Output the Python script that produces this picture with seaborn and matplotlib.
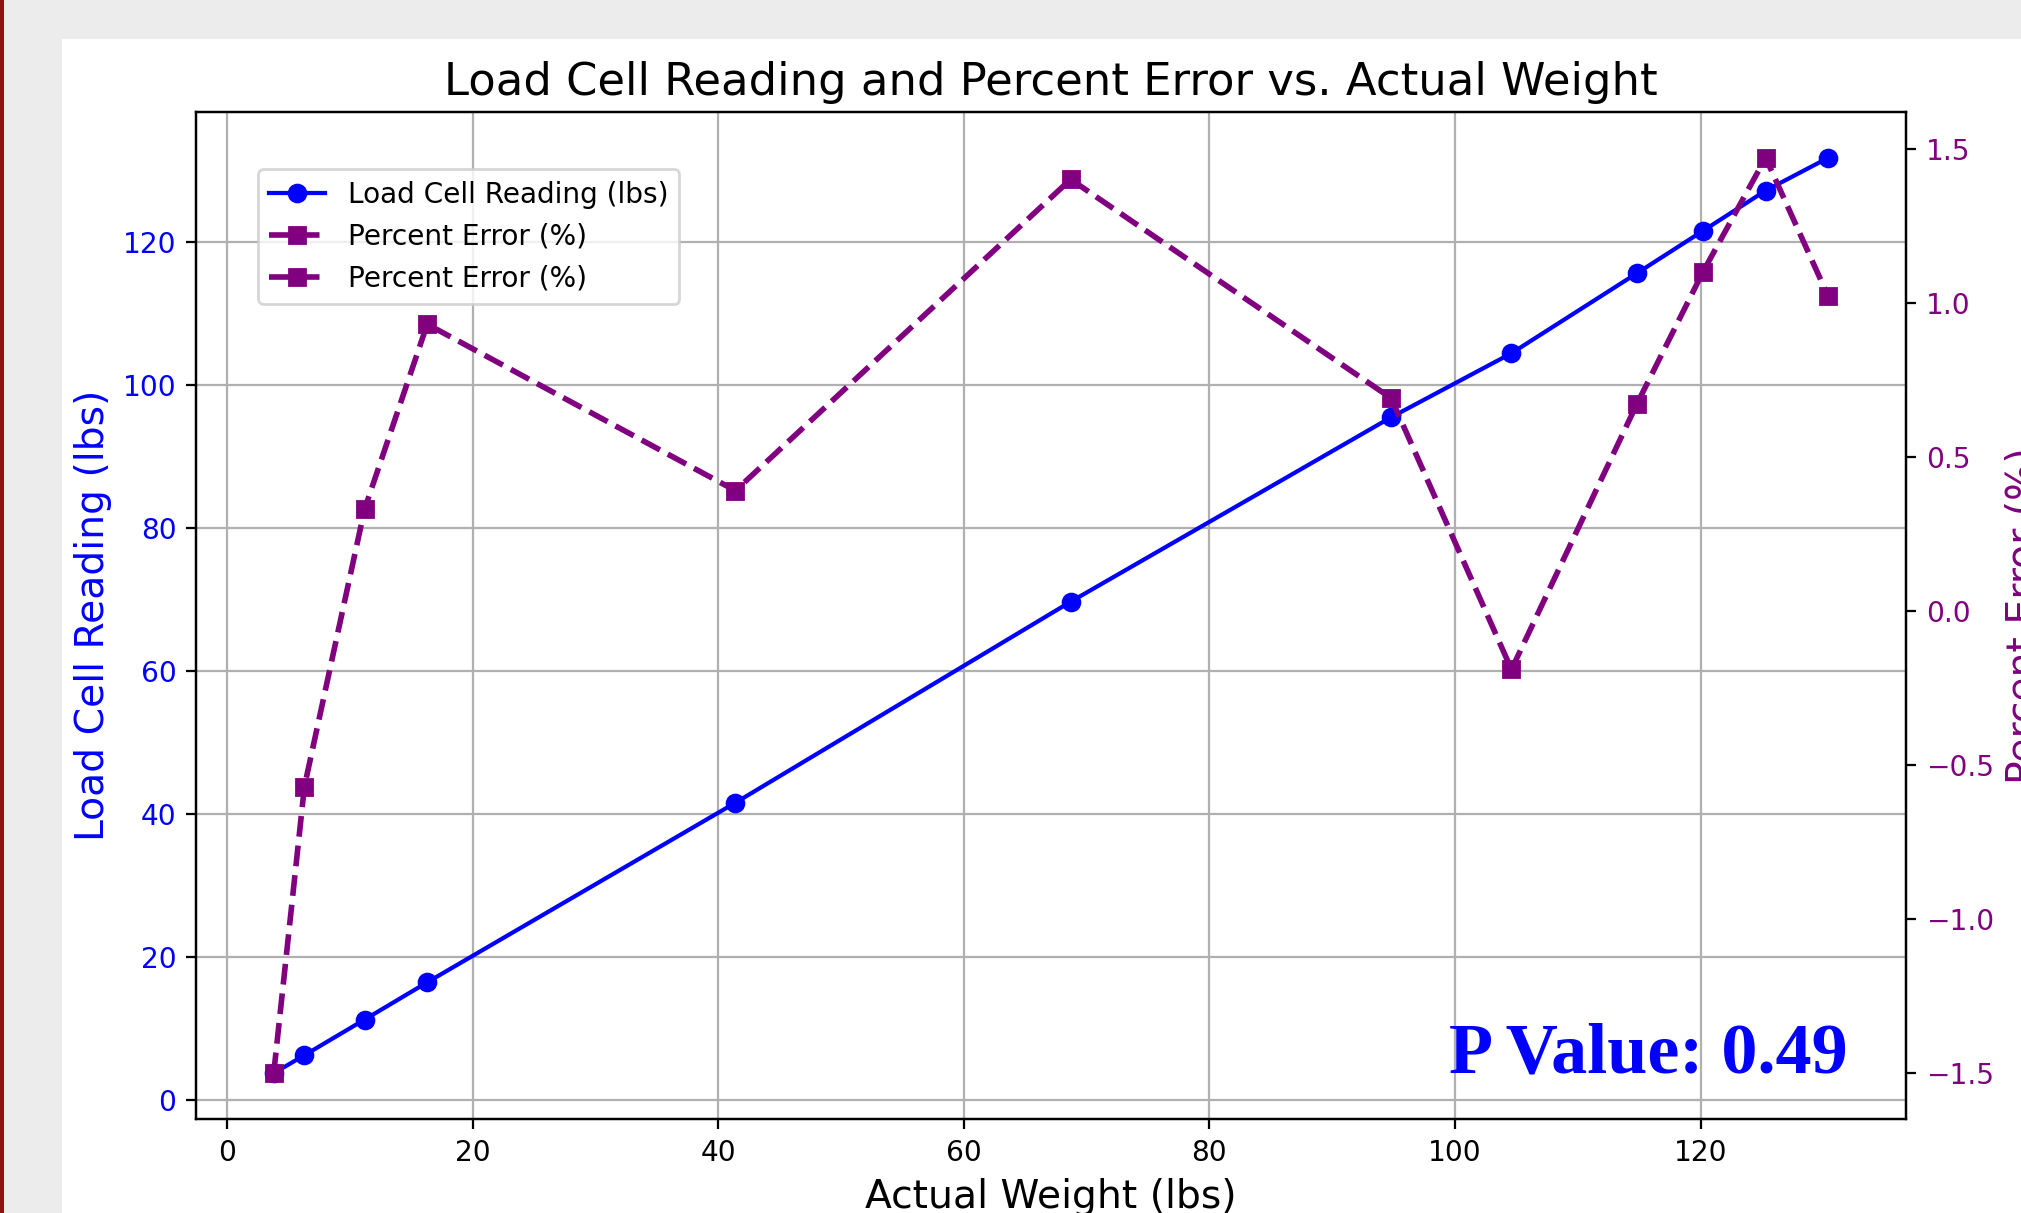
import matplotlib
matplotlib.use("Agg")
import matplotlib.pyplot as plt
from matplotlib.patches import Rectangle
import numpy as np
import pandas as pd
import seaborn as sns

# =====================================================================
# DADOS — leitura da célula de carga vs peso real
# =====================================================================
actual_weight = [3.8, 6.3, 11.2, 16.3, 41.4, 68.7, 94.8, 104.6, 114.8, 120.2, 125.3, 130.4]
load_reading = [3.74, 6.26, 11.24, 16.45, 41.56, 69.66, 95.45, 104.40, 115.57, 121.52, 127.14, 131.73]
percent_error = [-1.50, -0.57, 0.33, 0.93, 0.39, 1.40, 0.69, -0.19, 0.67, 1.10, 1.47, 1.02]

p_value = 0.49

COLORS = {
    "reading": "blue",
    "error": "purple",
    "screen": "#ececec",
    "stripe": "#8f1212",
}

df = pd.DataFrame({
    "actual": actual_weight,
    "reading": load_reading,
    "error": percent_error,
})

DPI = 202
fig = plt.figure(figsize=(2022 / DPI, 1213 / DPI), dpi=DPI)
fig.patch.set_facecolor(COLORS["screen"])

# fundo da captura de tela: área branca + faixa vermelha
fig.add_artist(Rectangle((62 / 2022, 0), 1 - 62 / 2022, 1 - 39 / 1213,
                         transform=fig.transFigure, facecolor="white",
                         edgecolor="none", zorder=-10))
fig.add_artist(Rectangle((0, 0), 4 / 2022, 1, transform=fig.transFigure,
                         facecolor=COLORS["stripe"], edgecolor="none",
                         zorder=-9))

ax1 = fig.add_axes([196 / 2022, 1 - 1119 / 1213, 1710 / 2022, 1007 / 1213])
ax2 = ax1.twinx()

sns.lineplot(data=df, x="actual", y="reading", ax=ax1, sort=False,
             estimator=None, color=COLORS["reading"], marker="o",
             markersize=6, markeredgecolor=COLORS["reading"],
             markeredgewidth=1, linewidth=1.5, legend=False)
sns.lineplot(data=df, x="actual", y="error", ax=ax2, sort=False,
             estimator=None, color=COLORS["error"], marker="s",
             markersize=6, markeredgecolor=COLORS["error"],
             markeredgewidth=1, linewidth=2, linestyle="--", legend=False)

ax1.set_title("Load Cell Reading and Percent Error vs. Actual Weight",
              fontsize=16)
ax1.set_xlabel("Actual Weight (lbs)", fontsize=14)
ax1.set_ylabel("Load Cell Reading (lbs)", fontsize=14, color=COLORS["reading"])
ax2.set_ylabel("Percent Error (%)", fontsize=14, color=COLORS["error"])
ax1.tick_params(axis="y", labelcolor=COLORS["reading"], labelsize=10)
ax1.tick_params(axis="x", labelsize=10)
ax2.tick_params(axis="y", labelcolor=COLORS["error"], labelsize=10)
ax1.grid(True)

# legenda combinada (o erro aparece duas vezes, como no original)
h1 = ax1.get_lines()[0]
h2 = ax2.get_lines()[0]
ax2.legend([h1, h2, h2],
           ["Load Cell Reading (lbs)", "Percent Error (%)", "Percent Error (%)"],
           loc="upper left", bbox_to_anchor=(0.028, 0.957), fontsize=10)

ax1.text(0.966, 0.0457, f"P Value: {p_value}", transform=ax1.transAxes,
         ha="right", va="baseline", fontsize=25.7, fontweight="bold",
         family="Liberation Serif", color="blue", zorder=10)

fig.savefig("out.png", dpi=DPI, facecolor=fig.get_facecolor())
plt.close(fig)
